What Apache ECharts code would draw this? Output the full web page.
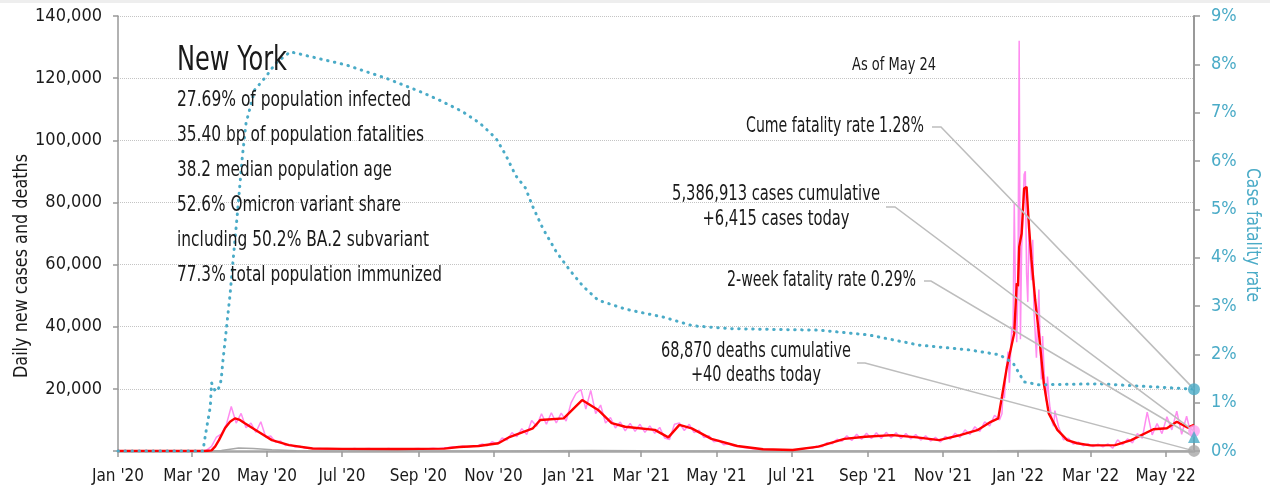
<!DOCTYPE html>
<html>
<head>
<meta charset="utf-8">
<script src="https://cdn.jsdelivr.net/npm/echarts@6/dist/echarts.min.js"></script>
<style>
  html, body { margin: 0; padding: 0; background: #fff; }
  #chart { width: 1270px; height: 491px; }
</style>
</head>
<body>
<div id="chart"></div>
<script>
// --- data ---
const endDate = '2022-05-24'
const cumeCfr = 1.28
const twoWeekCfr = 0.29
const casesToday = 6415
const deathsToday = 40

const xTickDates = ['2020-01-01', '2020-03-01', '2020-05-01', '2020-07-01', '2020-09-01', '2020-11-01',
  '2021-01-01', '2021-03-01', '2021-05-01', '2021-07-01', '2021-09-01', '2021-11-01',
  '2022-01-01', '2022-03-01', '2022-05-01']
const monthNames = ['Jan', 'Feb', 'Mar', 'Apr', 'May', 'Jun', 'Jul', 'Aug', 'Sep', 'Oct', 'Nov', 'Dec']

// daily new cases, one reading every 4 days from Jan 1 2020
const rawCasesA = [
  0, 0, 0, 0, 0, 0, 0, 0, 0, 0,
  0, 0, 0, 0, 0, 0, 0, 0, 300, 1500,
  4500, 5500, 8500, 14300, 9000, 12100, 7500, 9000, 6000, 9400,
  4500, 4800, 2800, 3200, 1800, 2100, 1300, 1500, 900, 1000,
  750, 800, 650, 750, 600, 700, 750, 600, 800, 650,
  700, 800, 600, 750, 650, 800, 600, 700, 750, 600,
  700, 800, 650, 750, 850, 700, 950, 1100, 1400, 1200,
  1600, 1300, 1500, 1700, 2300, 1700, 3000, 2200, 4200, 3500,
  5900, 4600, 7200, 5300, 9800, 8000, 12000, 8600, 12300, 9000,
  12200, 9600, 15500, 18500, 19800, 13500, 19500, 12000, 14800, 9000,
  10800, 7400, 9300, 6500, 8900, 6300, 8600, 6000, 8100, 5700,
  7600, 4200, 3700, 8600, 9000, 6600, 8600, 5900, 6700, 4300,
  4900, 3000, 3400, 2000, 2300, 1700, 1500, 1100, 1000, 750,
  650, 500, 450, 380, 330, 280, 320, 350, 420, 550,
  1000, 900, 1600, 1400, 2700, 2300, 3800, 3100, 4900, 3400,
  5400, 3800, 5700, 4000, 5900, 4000, 6000, 4300, 5900, 4000,
  5600, 3900, 5300, 3500, 4900, 3200, 4400, 2900, 4700, 3800,
  5700, 4400, 6800, 5300, 7800, 6300, 9400, 8100, 11500, 10000
]
// Omicron wave, daily from Dec 19 2021
const omicronDaily = [
  12000, 20000, 17000, 24000, 28000, 32000, 22000, 31000, 40000, 38000,
  80000, 50000, 35000, 53000, 132000, 36000, 65000, 75000, 89000, 90000,
  57000, 48000, 74000, 62000, 55000, 68000, 45000, 38000, 30000, 42000,
  52000, 35000, 23000, 37000, 28000, 20000, 16000, 24000, 18000, 14000,
  12000, 9000, 8000, 13000
]
// every 4 days from Feb 3 2022
const rawCasesB = [
  7800, 3600, 4100, 2200, 2900, 1700, 2300, 1400, 2200, 1300,
  2300, 900, 3600, 2000, 3900, 2600, 5600, 4100, 12500, 5200,
  8800, 5600, 11000, 6800, 12800, 5400, 11200, 4600
]

// 7-day average of new cases
const casesAvg = [
  ['2020-01-01', 0], ['2020-03-12', 0], ['2020-03-17', 200], ['2020-03-20', 1500], ['2020-03-23', 3500],
  ['2020-03-28', 7400], ['2020-04-01', 9400], ['2020-04-05', 10500], ['2020-04-09', 10000], ['2020-04-13', 8900],
  ['2020-04-24', 6200], ['2020-05-05', 3500], ['2020-05-19', 1900], ['2020-06-07', 800], ['2020-07-01', 700],
  ['2020-08-15', 650], ['2020-09-22', 750], ['2020-10-04', 1300], ['2020-10-20', 1600], ['2020-11-05', 2500],
  ['2020-11-14', 4500], ['2020-12-03', 7300], ['2020-12-09', 10000], ['2020-12-28', 10500], ['2021-01-12', 16400],
  ['2021-01-25', 13200], ['2021-02-05', 9000], ['2021-02-16', 7800], ['2021-03-12', 6800], ['2021-03-23', 4400],
  ['2021-04-01', 8400], ['2021-04-11', 7300], ['2021-04-27', 3900], ['2021-05-18', 1600], ['2021-06-08', 550],
  ['2021-07-02', 320], ['2021-07-23', 1400], ['2021-08-13', 3900], ['2021-08-30', 4600], ['2021-09-21', 5100],
  ['2021-10-11', 4400], ['2021-10-29', 3500], ['2021-11-15', 5100], ['2021-11-29', 6700], ['2021-12-10', 9400],
  ['2021-12-16', 10500], ['2021-12-19', 17500], ['2021-12-23', 27000], ['2021-12-29', 38000], ['2021-12-31', 54000],
  ['2022-01-01', 53000], ['2022-01-02', 65700], ['2022-01-04', 70000], ['2022-01-06', 84500], ['2022-01-08', 85000],
  ['2022-01-10', 72000], ['2022-01-12', 61500], ['2022-01-15', 48600], ['2022-01-18', 38000], ['2022-01-22', 21800],
  ['2022-01-26', 12100], ['2022-02-02', 6800], ['2022-02-10', 3500], ['2022-02-18', 2500], ['2022-03-01', 1800],
  ['2022-03-21', 1900], ['2022-04-03', 3500], ['2022-04-21', 7000], ['2022-05-02', 7300], ['2022-05-10', 9400],
  ['2022-05-19', 7500], ['2022-05-24', 8400]
]

// 7-day average of deaths
const deathsAvg = [
  ['2020-01-01', 0], ['2020-03-15', 0], ['2020-03-25', 150], ['2020-04-08', 1000], ['2020-04-20', 800],
  ['2020-05-05', 400], ['2020-05-25', 120], ['2020-06-20', 30], ['2020-10-01', 15], ['2020-11-15', 40],
  ['2020-12-20', 120], ['2021-01-20', 180], ['2021-03-01', 90], ['2021-05-01', 40], ['2021-07-01', 8],
  ['2021-09-01', 30], ['2021-11-01', 25], ['2021-12-15', 60], ['2022-01-20', 200], ['2022-02-20', 50],
  ['2022-04-01', 15], ['2022-05-24', 30]
]

// cumulative case fatality rate, %
const cfr = [
  ['2020-01-01', 0], ['2020-03-10', 0], ['2020-03-12', 0.33], ['2020-03-16', 0.92], ['2020-03-17', 1.41],
  ['2020-03-19', 1.30], ['2020-03-20', 1.23], ['2020-03-22', 1.26], ['2020-03-24', 1.37], ['2020-03-25', 1.52],
  ['2020-03-26', 1.81], ['2020-04-01', 3.23], ['2020-04-03', 3.81], ['2020-04-07', 4.92], ['2020-04-11', 6.09],
  ['2020-04-14', 6.78], ['2020-04-21', 7.47], ['2020-04-30', 7.74], ['2020-05-08', 8.02], ['2020-05-20', 8.26],
  ['2020-06-12', 8.12], ['2020-07-04', 7.99], ['2020-08-06', 7.71], ['2020-09-03', 7.43], ['2020-09-18', 7.26],
  ['2020-10-07', 7.02], ['2020-10-21', 6.78], ['2020-11-03', 6.47], ['2020-11-11', 6.12], ['2020-11-19', 5.70],
  ['2020-11-27', 5.44], ['2020-12-03', 5.05], ['2020-12-11', 4.61], ['2020-12-22', 4.12], ['2021-01-02', 3.74],
  ['2021-01-13', 3.40], ['2021-01-25', 3.12], ['2021-02-17', 2.93], ['2021-03-19', 2.77], ['2021-04-12', 2.59],
  ['2021-05-14', 2.53], ['2021-07-24', 2.50], ['2021-09-02', 2.40], ['2021-10-13', 2.19], ['2021-11-23', 2.09],
  ['2021-12-17', 1.99], ['2021-12-28', 1.82], ['2022-01-06', 1.43], ['2022-01-18', 1.37], ['2022-03-08', 1.39],
  ['2022-05-24', 1.28]
]

const statLines = [
  '27.69% of population infected',
  '35.40 bp of population fatalities',
  '38.2 median population age',
  '52.6% Omicron variant share',
  'including 50.2% BA.2 subvariant',
  '77.3% total population immunized'
]

// --- helpers ---
const FONT = '"DejaVu Sans Condensed", "Liberation Sans Narrow", "Roboto", sans-serif'
const TEAL = '#4aabc7'
const TXT = '#1a1a1a'

function toTime(s) {
  const p = s.split('-').map(Number)
  return new Date(p[0], p[1] - 1, p[2]).getTime()
}
function everyNDays(start, step, values) {
  const p = start.split('-').map(Number)
  return values.map((v, i) => [new Date(p[0], p[1] - 1, p[2] + i * step).getTime(), v])
}
const pairs = arr => arr.map(d => [toTime(d[0]), d[1]])

const endT = toTime(endDate)
const rawCases = everyNDays('2020-01-01', 4, rawCasesA)
  .concat(everyNDays('2021-12-19', 1, omicronDaily))
  .concat(everyNDays('2022-02-03', 4, rawCasesB))
  .concat([[endT, casesToday]])
const xTicks = xTickDates.map(toTime)

const chart = echarts.init(document.getElementById('chart'))

const option = {
  animation: false,
  backgroundColor: '#fff',
  textStyle: { fontFamily: FONT },
  grid: { left: 118, right: 76, top: 16, bottom: 40 },
  xAxis: {
    type: 'value',
    min: toTime('2020-01-01'),
    max: endT,
    axisLine: { lineStyle: { color: '#a6a6a6', width: 2.5 } },
    axisTick: { show: true, length: 6, customValues: xTicks, lineStyle: { color: '#999', width: 1.5 } },
    axisLabel: {
      customValues: xTicks,
      formatter: v => {
        const d = new Date(v)
        return monthNames[d.getMonth()] + " '" + String(d.getFullYear()).slice(2)
      },
      fontFamily: FONT, fontSize: 17, color: TXT, margin: 17
    },
    splitLine: { show: false }
  },
  yAxis: [
    {
      type: 'value', min: 0, max: 140000, interval: 20000, position: 'left',
      axisLine: { show: true, lineStyle: { color: '#999', width: 1.5 } },
      axisTick: { show: true, length: 5, lineStyle: { color: '#999', width: 1.5 } },
      axisLabel: {
        formatter: v => (v === 0 ? '' : v.toLocaleString('en-US')),
        fontFamily: FONT, fontSize: 18, color: TXT, margin: 16
      },
      splitLine: { show: true, lineStyle: { type: 'dotted', color: '#c4c4c4', width: 1 } }
    },
    {
      type: 'value', min: 0, max: 9, interval: 1, position: 'right',
      axisLine: { show: true, lineStyle: { color: '#999', width: 2 } },
      axisTick: { show: true, length: 6, lineStyle: { color: '#999', width: 1.5 } },
      axisLabel: { formatter: '{value}%', fontFamily: FONT, fontSize: 18, color: TEAL, margin: 17 },
      splitLine: { show: false }
    }
  ],
  series: [
    {
      name: 'Daily cases', type: 'line', data: rawCases, showSymbol: false, z: 2,
      lineStyle: { color: '#ff8cf0', width: 1.5 }
    },
    {
      name: 'Deaths (7-day avg)', type: 'line', data: pairs(deathsAvg), showSymbol: false, z: 3,
      lineStyle: { color: '#a8a8a8', width: 1.5 }
    },
    {
      name: 'Cases (7-day avg)', type: 'line', data: pairs(casesAvg), showSymbol: false, z: 4,
      lineStyle: { color: '#ff0000', width: 2.4 }
    },
    {
      name: 'Case fatality rate', type: 'line', yAxisIndex: 1, data: pairs(cfr), showSymbol: false, z: 5,
      lineStyle: { color: TEAL, width: 3, type: [0.5, 6.5], cap: 'round' }
    },
    {
      type: 'scatter', yAxisIndex: 1, data: [[endT, cumeCfr]], symbol: 'circle', symbolSize: 12, z: 10,
      itemStyle: { color: TEAL }
    },
    {
      type: 'scatter', yAxisIndex: 0, data: [[endT, casesToday]], symbol: 'circle', symbolSize: 12, z: 10,
      itemStyle: { color: '#ffa3f2' }
    },
    {
      type: 'scatter', yAxisIndex: 1, data: [[endT, twoWeekCfr]], symbol: 'triangle', symbolSize: 12, z: 10,
      itemStyle: { color: TEAL }
    },
    {
      type: 'scatter', yAxisIndex: 0, data: [[endT, deathsToday]], symbol: 'circle', symbolSize: 12, z: 10,
      itemStyle: { color: '#a6a6a6' }
    }
  ]
}
chart.setOption(option)

// text block and leader lines to the end-of-series markers;
// the reference face is narrower than any installed font, so each text is squeezed to its width
const measure = document.createElement('canvas').getContext('2d')
function txt(text, x, y, size, align, width, extra) {
  measure.font = size + 'px ' + FONT
  const sx = width / measure.measureText(text).width
  return Object.assign({
    type: 'text', x: x, y: y, z: 20, scaleX: sx,
    style: { text: text, fontFamily: FONT, fontSize: size, fill: TXT, align: align, verticalAlign: 'middle' }
  }, extra || {})
}

const lead = (pts, target) => ({
  type: 'polyline', z: 8, silent: true,
  shape: { points: pts.concat([target]) },
  style: { stroke: '#bdbdbd', lineWidth: 1.5, fill: null }
})

const pCume = chart.convertToPixel({ xAxisIndex: 0, yAxisIndex: 1 }, [endT, cumeCfr])
const pCases = chart.convertToPixel({ xAxisIndex: 0, yAxisIndex: 0 }, [endT, casesToday])
const pTwoWk = chart.convertToPixel({ xAxisIndex: 0, yAxisIndex: 1 }, [endT, twoWeekCfr])
const pDeaths = chart.convertToPixel({ xAxisIndex: 0, yAxisIndex: 0 }, [endT, deathsToday])

const statWidths = [234, 247, 215, 224, 252, 265]

const graphic = [
  { type: 'rect', z: 0, shape: { x: 0, y: 0, width: 1270, height: 3 }, style: { fill: '#eeeeee' } },
  txt('New York', 177, 61, 33, 'left', 110),
  txt('As of May 24', 894, 66, 17, 'center', 84),
  txt('Cume fatality rate 1.28%', 924, 127, 21, 'right', 178),
  txt('5,386,913 cases cumulative', 776, 195, 21, 'center', 208),
  txt('+6,415 cases today', 776, 220, 21, 'center', 147),
  txt('2-week fatality rate 0.29%', 916, 281, 21, 'right', 189),
  txt('68,870 deaths cumulative', 756, 352, 21, 'center', 190),
  txt('+40 deaths today', 756, 376, 21, 'center', 130),
  txt('Daily new cases and deaths', 22, 266, 19, 'center', 224, { rotation: Math.PI / 2 }),
  txt('Case fatality rate', 1252, 235, 19, 'center', 134, { rotation: -Math.PI / 2 }),
  lead([[932, 127], [941, 127]], pCume),
  lead([[886, 207], [895, 207]], pCases),
  lead([[924, 281], [931, 281]], pTwoWk),
  lead([[857, 363], [865, 363]], pDeaths)
]
statLines.forEach((s, i) => graphic.push(txt(s, 177, 101 + i * 35, 21, 'left', statWidths[i])))
graphic[10].style.fill = TEAL

chart.setOption({ graphic: graphic })
</script>
</body>
</html>
